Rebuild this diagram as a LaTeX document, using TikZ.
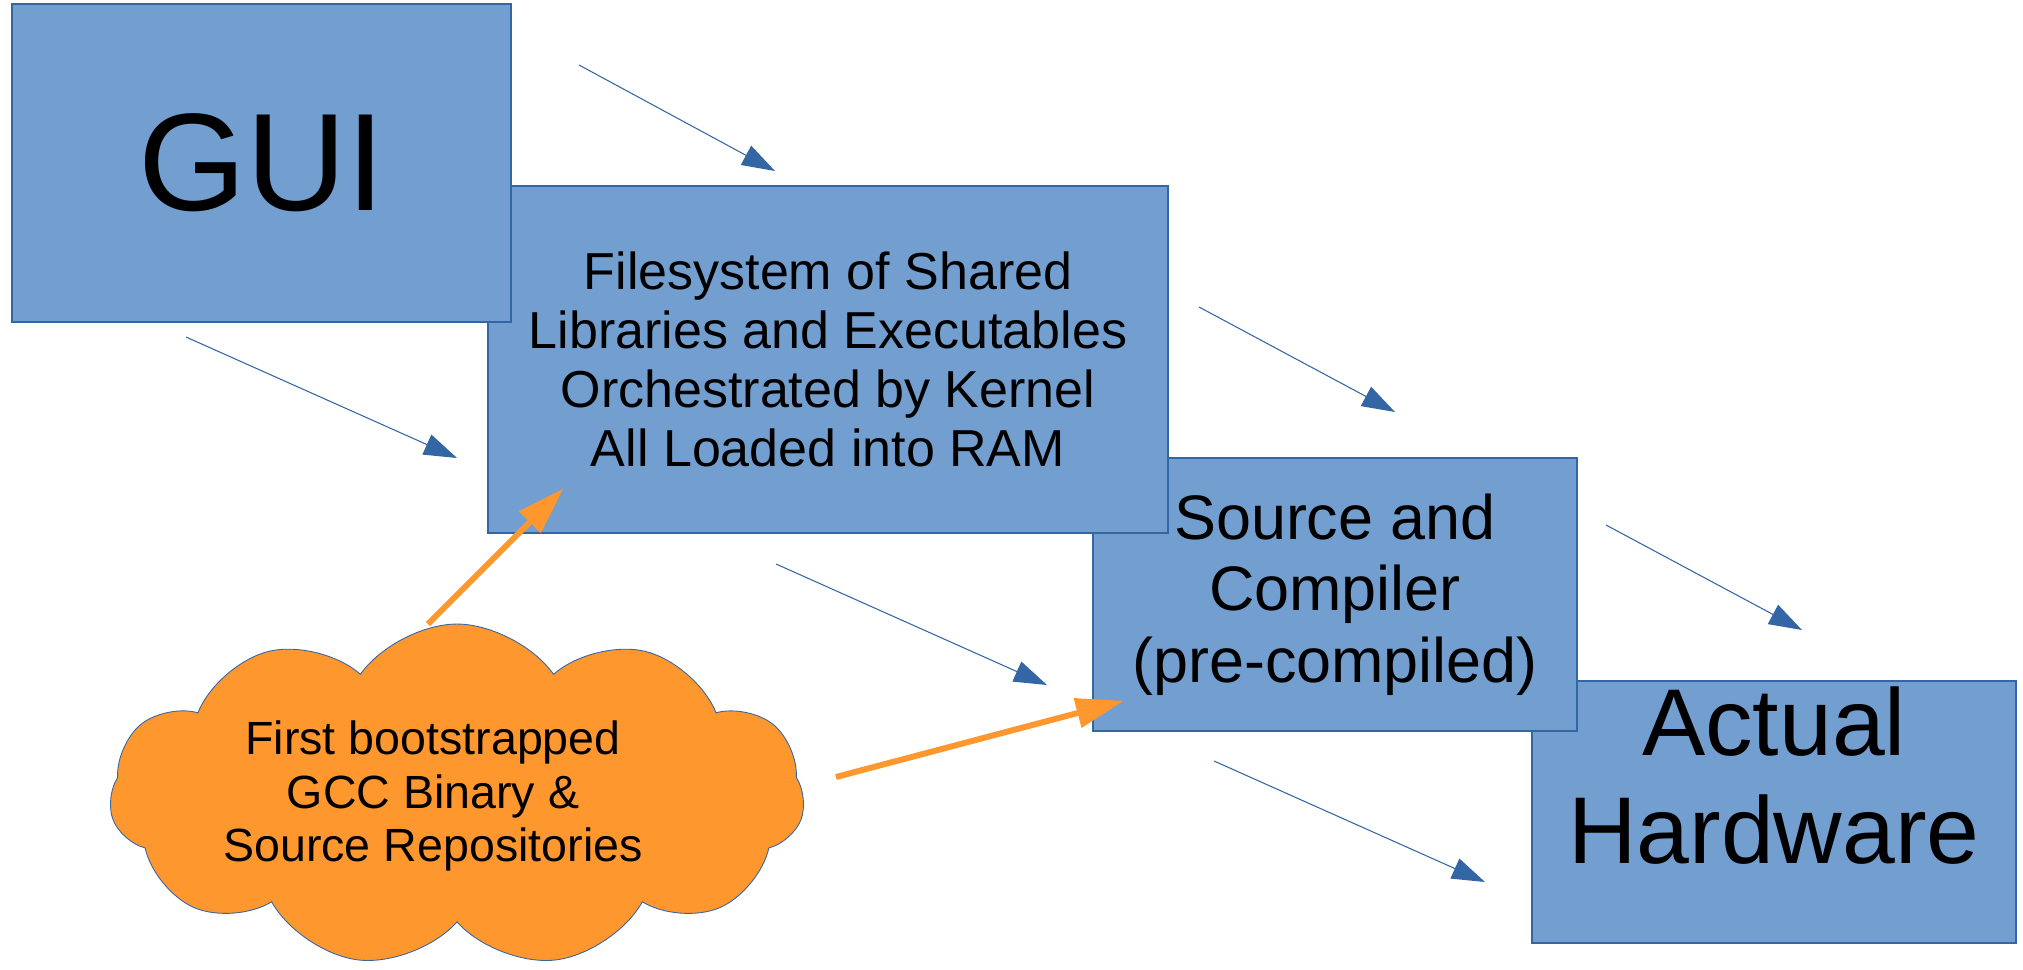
\documentclass[tikz,border=0pt]{standalone}
\usepackage{fontspec}
\setmainfont{Liberation Sans}
\usetikzlibrary{arrows.meta,shapes.symbols}
\definecolor{boxblue}{HTML}{729FCF}
\definecolor{lineblue}{HTML}{3465A4}
\definecolor{seedorange}{HTML}{FF972F}
\begin{document}
\begin{tikzpicture}[x=0.02cm,y=-0.02cm]

    \tikzstyle{block} = [draw=lineblue, fill=boxblue, rectangle, line width=0.7pt, inner sep=0pt, align=center]
    \tikzstyle{flow} = [draw=lineblue, line width=0.6pt, -{Triangle[length=0.66cm,width=0.44cm,line width=0pt]}]
    \tikzstyle{feed} = [draw=seedorange, line width=3.4pt, -{Triangle[length=0.94cm,width=0.62cm,line width=0pt]}]

    \useasboundingbox (0,0) rectangle (2023,970);

    % boxes, back to front
    \node[block, minimum width=9.68cm, minimum height=5.24cm] (hw) at (1774,812) {};
    \node[align=center, font=\fontsize{54}{61}\selectfont] (hwtext) at (1774,775.5) {Actual\\Hardware};
    \node[block, minimum width=9.68cm, minimum height=5.46cm, font=\fontsize{35.8}{40.8}\selectfont] (src) at (1335,594.5) {Source and\\Compiler\\(pre-compiled)};
    \node[block, minimum width=13.6cm, minimum height=6.94cm, font=\fontsize{29.6}{33.7}\selectfont] (fs) at (828,359.5) {Filesystem of Shared\\Libraries and Executables\\Orchestrated by Kernel\\All Loaded into RAM};
    \node[block, minimum width=9.98cm, minimum height=6.36cm, font=\fontsize{79}{91}\selectfont] (gui) at (261.5,163) {GUI};

    % the bootstrap cloud
    \node[cloud, draw=lineblue, fill=seedorange, line width=0.5pt, cloud puffs=11, cloud puff arc=110, cloud ignores aspect, minimum width=13.9cm, minimum height=6.86cm] (repo) at (457,795.5) {};
    \node[align=center, font=\fontsize{26.5}{30.7}\selectfont] (seed) at (433,796) {First bootstrapped\\GCC Binary \&\\Source Repositories};

    % free arrow ends
    \coordinate (f1a) at (579,65);   \coordinate (f1b) at (775,171);
    \coordinate (f2a) at (186,337);  \coordinate (f2b) at (457,458);
    \coordinate (f3a) at (1199,307); \coordinate (f3b) at (1395,412);
    \coordinate (f4a) at (776,564);  \coordinate (f4b) at (1047,685);
    \coordinate (f5a) at (1606,525); \coordinate (f5b) at (1802,630);
    \coordinate (f6a) at (1214,761); \coordinate (f6b) at (1485,882);
    \coordinate (s1a) at (428,624);  \coordinate (s1b) at (563,489);
    \coordinate (s2a) at (836,777);  \coordinate (s2b) at (1123,701);

    \draw[flow] (f1a) -- (f1b);
    \draw[flow] (f2a) -- (f2b);
    \draw[flow] (f3a) -- (f3b);
    \draw[flow] (f4a) -- (f4b);
    \draw[flow] (f5a) -- (f5b);
    \draw[flow] (f6a) -- (f6b);

    \draw[feed] (s1a) -- (s1b);
    \draw[feed] (s2a) -- (s2b);
\end{tikzpicture}
\end{document}
